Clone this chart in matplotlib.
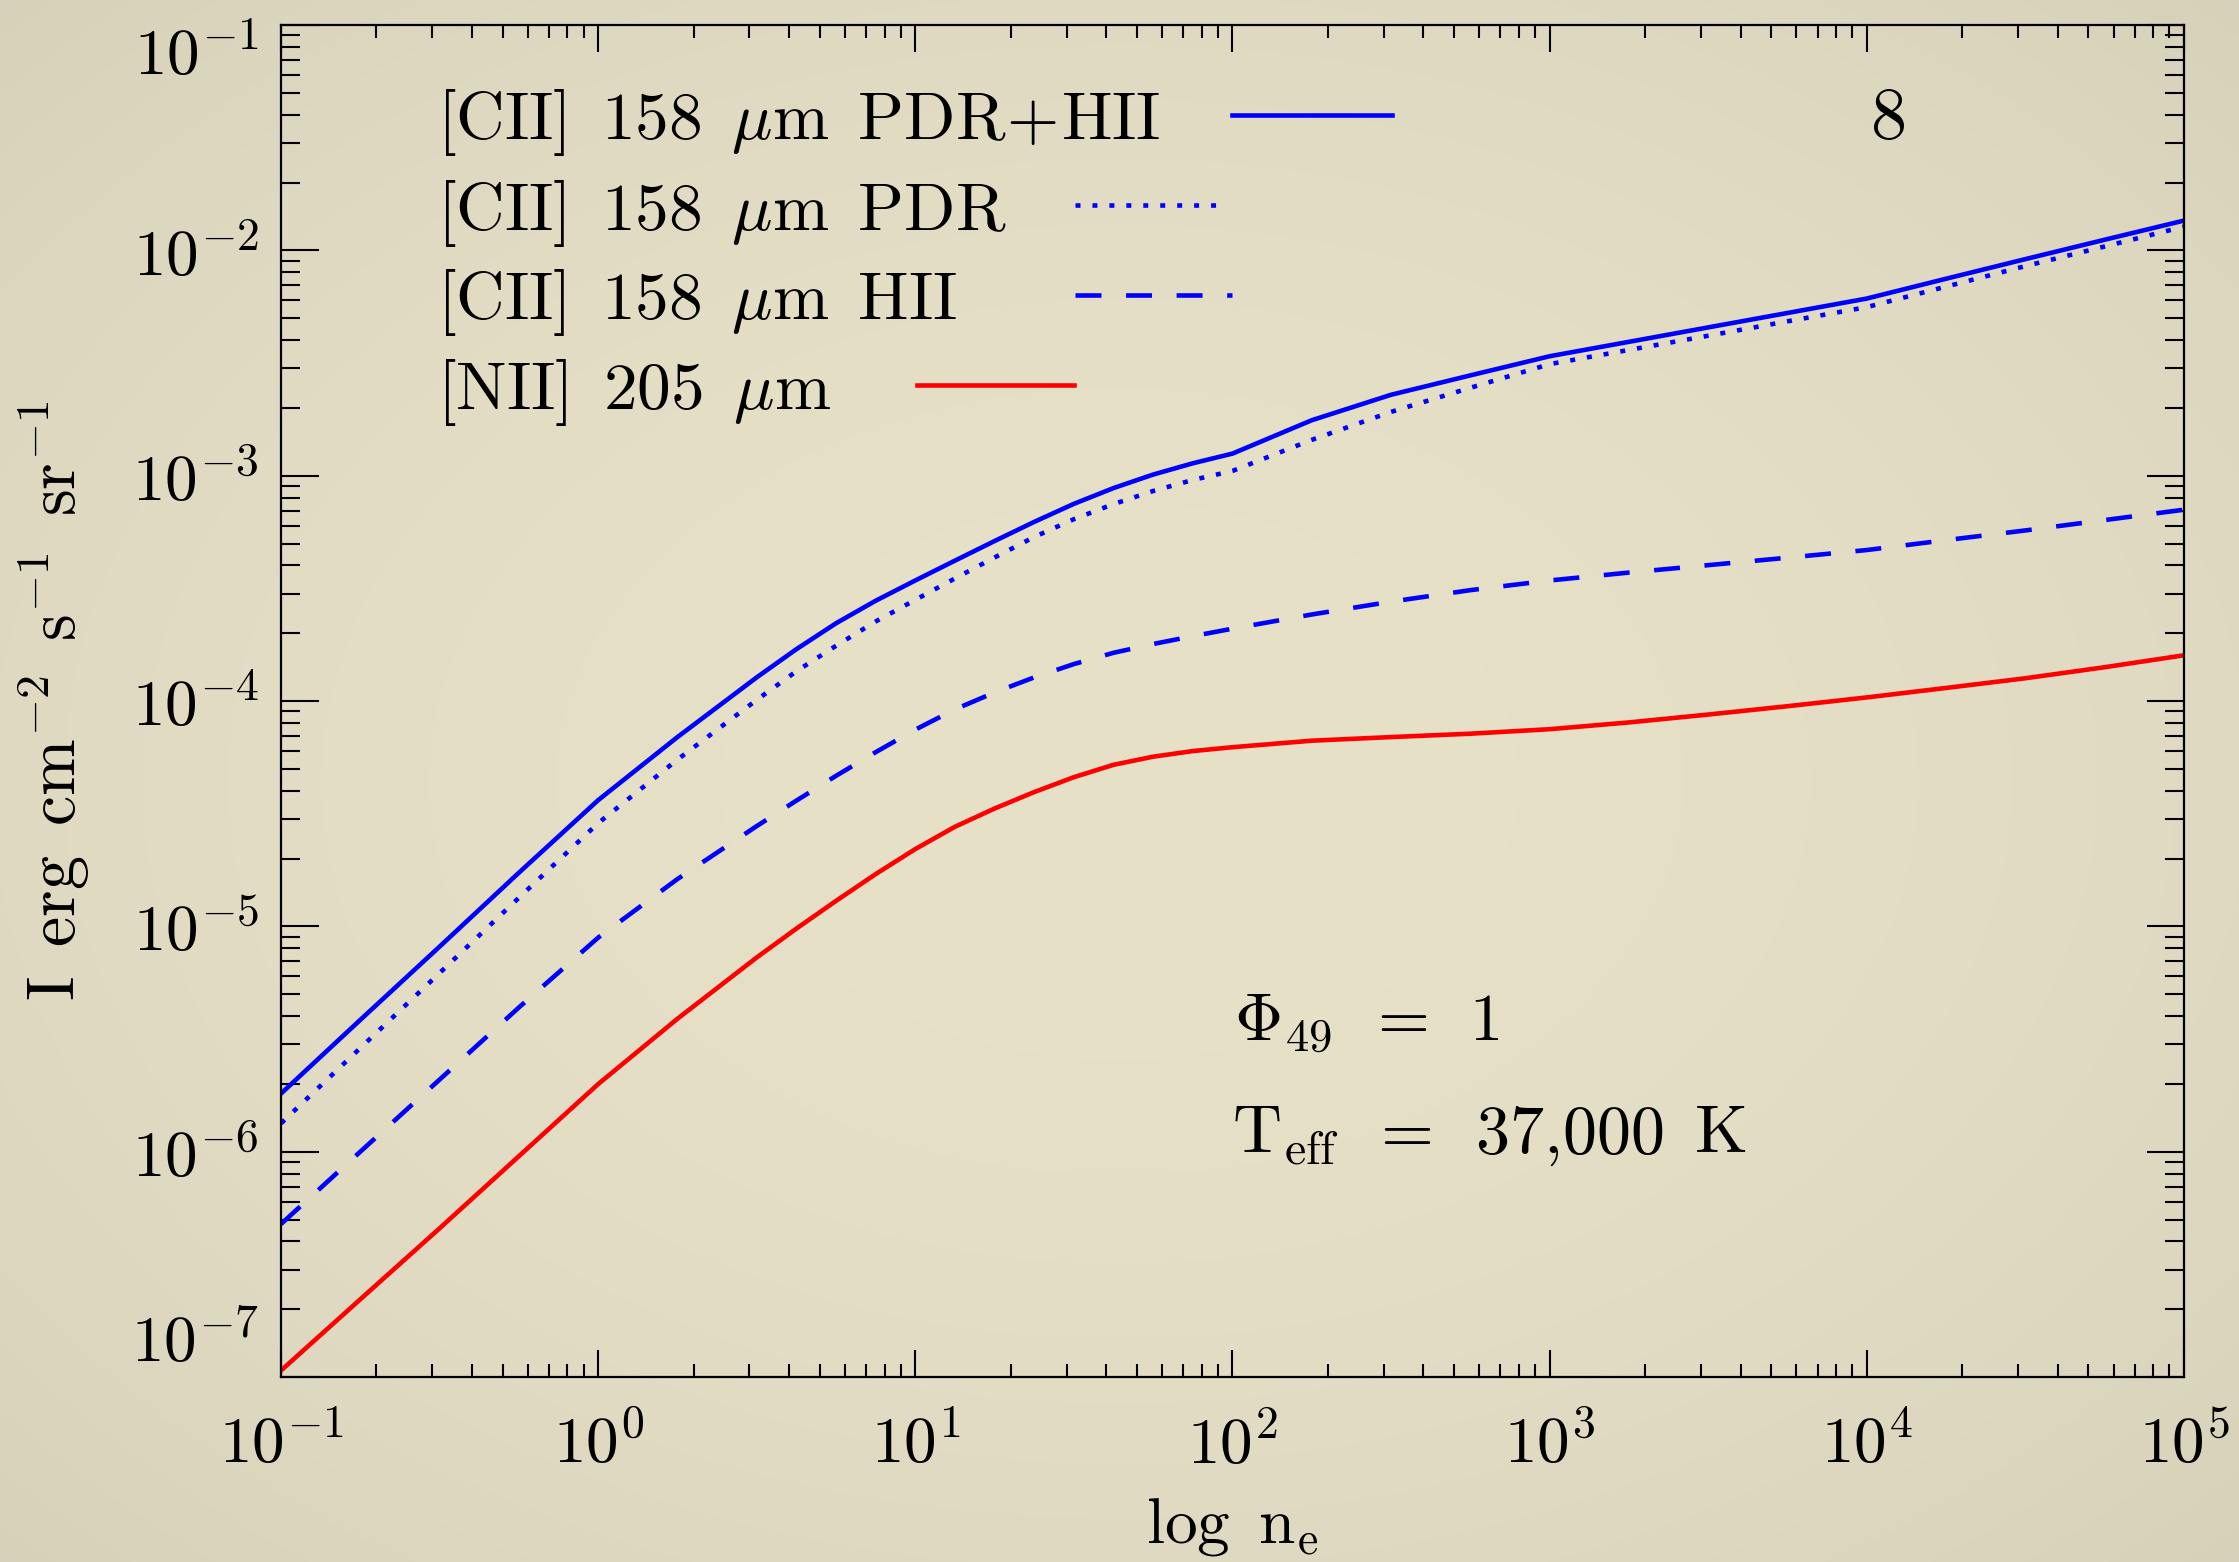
import numpy as np
import matplotlib
matplotlib.use("Agg")
import matplotlib.pyplot as plt
from matplotlib.ticker import FixedLocator, FixedFormatter, LogLocator, NullFormatter

# log10 of electron density (x) and log10 of line intensity (y)
log_ne = [-1.0, -0.75, -0.5, -0.25, 0.0, 0.25, 0.5, 0.625, 0.75, 0.875, 1.0, 1.125, 1.25,
          1.375, 1.5, 1.625, 1.75, 1.875, 2.0, 2.25, 2.5, 2.75, 3.0, 3.25, 3.5, 3.75,
          4.0, 4.25, 4.5, 4.75, 5.0]
cii_total = [-5.742, -5.415, -5.09, -4.762, -4.44, -4.16, -3.895, -3.77, -3.655, -3.555,
             -3.465, -3.377, -3.29, -3.205, -3.125, -3.055, -2.995, -2.945, -2.902, -2.754,
             -2.641, -2.555, -2.47, -2.406, -2.342, -2.278, -2.214, -2.126, -2.039, -1.953,
             -1.868]
cii_pdr = [-5.874, -5.54, -5.207, -4.873, -4.542, -4.26, -3.995, -3.868, -3.755, -3.647,
           -3.551, -3.456, -3.363, -3.272, -3.193, -3.126, -3.068, -3.019, -2.979, -2.841,
           -2.717, -2.61, -2.505, -2.442, -2.379, -2.315, -2.252, -2.161, -2.07, -1.983,
           -1.895]
cii_hii = [-6.321, -6.0, -5.68, -5.36, -5.05, -4.79, -4.555, -4.442, -4.332, -4.227,
           -4.127, -4.037, -3.962, -3.895, -3.836, -3.786, -3.747, -3.712, -3.679, -3.616,
           -3.559, -3.508, -3.465, -3.43, -3.397, -3.364, -3.33, -3.286, -3.243, -3.197,
           -3.151]
nii_205 = [-6.971, -6.655, -6.34, -6.02, -5.70, -5.41, -5.138, -5.01, -4.887, -4.768,
           -4.657, -4.558, -4.477, -4.404, -4.338, -4.283, -4.247, -4.222, -4.205, -4.176,
           -4.16, -4.145, -4.125, -4.095, -4.06, -4.023, -3.984, -3.942, -3.899, -3.85,
           -3.797]

x_ticks = [1e-1, 1e0, 1e1, 1e2, 1e3, 1e4, 1e5]
x_tick_labels = [r"$10^{-1}$", r"$10^{0}$", r"$10^{1}$", r"$10^{2}$",
                 r"$10^{3}$", r"$10^{4}$", r"$10^{5}$"]
y_ticks = [1e-7, 1e-6, 1e-5, 1e-4, 1e-3, 1e-2, 1e-1]
y_tick_labels = [r"$10^{-7}$", r"$10^{-6}$", r"$10^{-5}$", r"$10^{-4}$",
                 r"$10^{-3}$", r"$10^{-2}$", r"$10^{-1}$"]

legend_labels = [
    r"$\mathrm{[CII]}\enspace\mathrm{158}\enspace\mu\mathrm{m}\enspace\mathrm{PDR}\!+\!\mathrm{HII}$",
    r"$\mathrm{[CII]}\enspace\mathrm{158}\enspace\mu\mathrm{m}\enspace\mathrm{PDR}$",
    r"$\mathrm{[CII]}\enspace\mathrm{158}\enspace\mu\mathrm{m}\enspace\mathrm{HII}$",
    r"$\mathrm{[NII]}\enspace\mathrm{205}\enspace\mu\mathrm{m}$",
]

plt.rcParams["mathtext.fontset"] = "cm"
plt.rcParams["lines.scale_dashes"] = False

bg = "#e6dfc5"
blue = "#0000ff"
red = "#ff0000"
lw = 3.3
dotted = (0, (3.6, 8.6))
dashed = (0, (18.7, 17.7))


def main():
    fig = plt.figure(figsize=(22.39, 15.62), dpi=100)
    fig.patch.set_facecolor(bg)

    # faint paper vignette behind everything
    h, w = 1562, 2239
    yy, xx = np.mgrid[0:h, 0:w]
    r2 = ((xx - w / 2) / (w / 2)) ** 2 + ((yy - h / 2) / (h / 2)) ** 2
    base = np.array([231, 225, 200]) / 255.0
    shade = 1 - 0.035 * r2
    img = np.clip(base[None, None, :] * shade[:, :, None], 0, 1)
    fig.figimage(img, xo=0, yo=0, origin="upper", zorder=-5)

    ax = fig.add_axes([0.1255, 0.1184, 0.8499, 0.8656])
    ax.set_facecolor("none")

    x = 10 ** np.array(log_ne)
    styles = [(cii_total, blue, "-"), (cii_pdr, blue, dotted),
              (cii_hii, blue, dashed), (nii_205, red, "-")]
    for vals, col, ls in styles:
        ax.plot(x, 10 ** np.array(vals), color=col, linestyle=ls, lw=lw)

    ax.set_xscale("log")
    ax.set_yscale("log")
    ax.set_xlim(1e-1, 1e5)
    ax.set_ylim(1e-7, 1e-1)

    ax.xaxis.set_major_locator(FixedLocator(x_ticks))
    ax.xaxis.set_major_formatter(FixedFormatter(x_tick_labels))
    ax.yaxis.set_major_locator(FixedLocator(y_ticks))
    ax.yaxis.set_major_formatter(FixedFormatter(y_tick_labels))
    for axis in (ax.xaxis, ax.yaxis):
        axis.set_minor_locator(LogLocator(base=10, subs=np.arange(2, 10), numticks=30))
        axis.set_minor_formatter(NullFormatter())

    ax.tick_params(axis="x", which="major", direction="in", length=19.4, width=1.5,
                   top=True, pad=26, labelsize=47)
    ax.tick_params(axis="x", which="minor", direction="in", length=9.4, width=1.5, top=True)
    ax.tick_params(axis="y", which="major", direction="in", length=27, width=1.5,
                   right=True, pad=16, labelsize=47)
    ax.tick_params(axis="y", which="minor", direction="in", length=13.7, width=1.5, right=True)
    for s in ax.spines.values():
        s.set_linewidth(1.6)

    # end labels on the y axis are kept inside the frame
    ylabs = ax.get_yticklabels()
    ylabs[0].set_verticalalignment("bottom")
    ylabs[-1].set_verticalalignment("top")

    ax.set_xlabel(r"$\mathrm{log}\enspace\mathrm{n}_\mathrm{e}$", fontsize=47, va="baseline")
    ax.xaxis.set_label_coords(0.5, -0.122)
    ax.set_ylabel(r"$\mathrm{I}\enspace\mathrm{erg}\enspace\mathrm{cm}^{-2}\enspace"
                  r"\mathrm{s}^{-1}\enspace\mathrm{sr}^{-1}$", fontsize=49, va="baseline")
    ax.yaxis.set_label_coords(-0.1077, 0.5)

    # hand-made legend: text, then a line sample right after it
    text_y = [0.9155, 0.8484, 0.7823, 0.7158]
    line_y = [0.9334, 0.8669, 0.8003, 0.7337]
    line_x = [(0.4997, 0.5838), (0.4174, 0.4949), (0.4174, 0.4997), (0.3342, 0.4168)]
    for lab, ty, ly, lx, (_, col, ls) in zip(legend_labels, text_y, line_y, line_x, styles):
        ax.text(0.082, ty, lab, transform=ax.transAxes, fontsize=48.5, va="baseline")
        ax.plot(lx, [ly, ly], transform=ax.transAxes, color=col, linestyle=ls, lw=lw)

    ax.text(0.844, 0.9164, r"$8$", transform=ax.transAxes, fontsize=52,
            ha="center", va="baseline")
    ax.text(0.501, 0.2485, r"$\Phi_{49}\enspace=\enspace1$", transform=ax.transAxes,
            fontsize=48, va="baseline")
    ax.text(0.500, 0.1657, r"$\mathrm{T}_\mathrm{eff}\enspace=\enspace\mathrm{37{,}000}"
            r"\enspace\mathrm{K}$", transform=ax.transAxes, fontsize=49, va="baseline")

    fig.savefig("out.png", dpi=100)


if __name__ == "__main__":
    main()
